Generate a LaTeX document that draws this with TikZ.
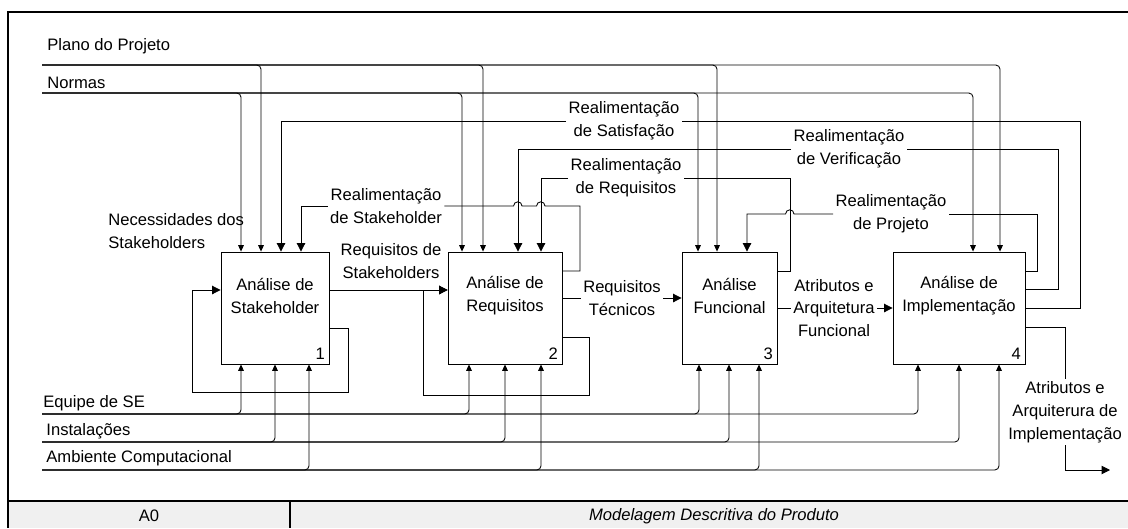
\documentclass[tikz,border=0pt]{standalone}
\usepackage{fontspec}
\setmainfont{Liberation Sans}
\usetikzlibrary{arrows.meta}
\begin{document}
\begin{tikzpicture}[x=0.025cm,y=-0.025cm,line width=0.6pt,
  every node/.style={font=\fontsize{11.8}{16.3}\selectfont},
  proc/.style={draw,inner sep=0pt,minimum height=2.8cm},
  lbl/.style={align=center,inner sep=1.5pt},
  txt/.style={anchor=west,inner sep=0pt},
  num/.style={anchor=south east,inner sep=3pt},
  ctl/.style={-{Triangle[length=4.5pt,width=4pt]},rounded corners=3pt},
  flow/.style={-{Triangle[length=6pt,width=6pt]}},
  frame/.style={line width=1.4pt}]
\useasboundingbox (0,0) rectangle (1128,528);
\fill[black!6] (8,501) rectangle (1128,528);
\draw[frame] (1128,12) -- (8,12) -- (8,528);
\draw[frame] (8,501) -- (1128,501);
\draw[frame] (290,501) -- (290,528);
\node (a0) at (149,516) {A0};
\node (tit) at (714,516) {\itshape Modelagem Descritiva do Produto};

\node[proc,minimum width=2.7cm] (b1) at (275,308) {};
\node[proc,minimum width=2.85cm] (b2) at (505,308) {};
\node[proc,minimum width=2.375cm] (b3) at (729.5,308) {};
\node[proc,minimum width=3.3cm] (b4) at (959,308) {};
\node[lbl] (t1) at (275,296) {Análise de\\Stakeholder};
\node[lbl] (t2) at (505,296) {Análise de\\Requisitos};
\node[lbl] (t3) at (729.5,296) {Análise\\Funcional};
\node[lbl] (t4) at (959,296) {Análise de\\Implementação};
\node[num] (n1) at (b1.south east) {1};
\node[num] (n2) at (b2.south east) {2};
\node[num] (n3) at (b3.south east) {3};
\node[num] (n4) at (b4.south east) {4};

\node[txt] (plano) at (47,46) {Plano do Projeto};
\node[txt] (normas) at (47,83) {Normas};
\node[txt,align=left] (nec) at (108,231) {Necessidades dos\\Stakeholders};
\node[txt] (equipe) at (43,403) {Equipe de SE};
\node[txt] (inst) at (46,431) {Instalações};
\node[txt] (amb) at (46,458) {Ambiente Computacional};
\coordinate (cp) at (42,65);
\coordinate (cn) at (42,93);
\coordinate (ce) at (42,414);
\coordinate (ci) at (42,442);
\coordinate (ca) at (42,470);
\foreach \x/\b in {261/b1,483/b2,717/b3,1000/b4} \draw[ctl] (cp) -| (\x,0 |- \b.north);
\foreach \x/\b in {241/b1,462/b2,698/b3,973/b4} \draw[ctl] (cn) -| (\x,0 |- \b.north);
\foreach \x/\b in {241/b1,469/b2,699/b3,918/b4} \draw[ctl] (ce) -| (\x,0 |- \b.south);
\foreach \x/\b in {275/b1,505/b2,729/b3,959/b4} \draw[ctl] (ci) -| (\x,0 |- \b.south);
\foreach \x/\b in {309/b1,541/b2,759/b3,999/b4} \draw[ctl] (ca) -| (\x,0 |- \b.south);

\draw[flow] (b1.east |- 0,328) -| (348,392) -| (192,290) -- (b1.west |- 0,290);
\node[lbl] (rst) at (391,261) {Requisitos de\\Stakeholders};
\draw[flow] (b1.east |- 0,290) -- (b2.west |- 0,290);
\draw[flow] (b2.east |- 0,337) -| (589,395) -| (423,290) -- (b2.west |- 0,290);

\node[lbl] (rtec) at (622,298) {Requisitos\\Técnicos};
\draw (b2.east |- 0,298) -- (rtec.west);
\draw[flow] (rtec.east) -- (b3.west |- 0,298);
\node[lbl] (aaf) at (834,308) {Atributos e\\Arquitetura\\Funcional};
\draw (b3.east |- 0,308) -- (aaf.west);
\draw[flow] (aaf.east) -- (b4.west |- 0,308);
\node[lbl] (aai) at (1065,412) {Atributos e\\Arquiterura de\\Implementação};
\coordinate (saida) at (1110,470);
\draw (b4.east |- 0,327) -| (aai.north);
\draw[flow] (aai.south) |- (saida);

\node[lbl] (fsth) at (386,206) {Realimentação\\de Stakeholder};
\draw (b2.east |- 0,271) -| (580,206) -- (545,206) arc[start angle=0,end angle=180,radius=3pt]
  -- (522,206) arc[start angle=0,end angle=180,radius=3pt] -- (fsth.east);
\draw[flow] (fsth.west) -| (301,0 |- b1.north);
\node[lbl] (freq) at (626,178) {Realimentação\\de Requisitos};
\draw (b3.east |- 0,271) -| (790,178) -- (freq.east);
\draw[flow] (freq.west) -| (541,0 |- b2.north);
\node[lbl] (fver) at (849,149) {Realimentação\\de Verificação};
\draw (b4.east |- 0,289) -| (1058,149) -- (fver.east);
\draw[flow] (fver.west) -| (518,0 |- b2.north);
\node[lbl] (fsat) at (624,121) {Realimentação\\de Satisfação};
\draw (b4.east |- 0,308) -| (1080,121) -- (fsat.east);
\draw[flow] (fsat.west) -| (281,0 |- b1.north);
\node[lbl] (fproj) at (891,214) {Realimentação\\de Projeto};
\draw (b4.east |- 0,271) -| (1037,214) -- (fproj.east);
\draw[flow] (fproj.west) -- (794,214) arc[start angle=0,end angle=180,radius=3pt] -| (747,0 |- b3.north);
\end{tikzpicture}
\end{document}
